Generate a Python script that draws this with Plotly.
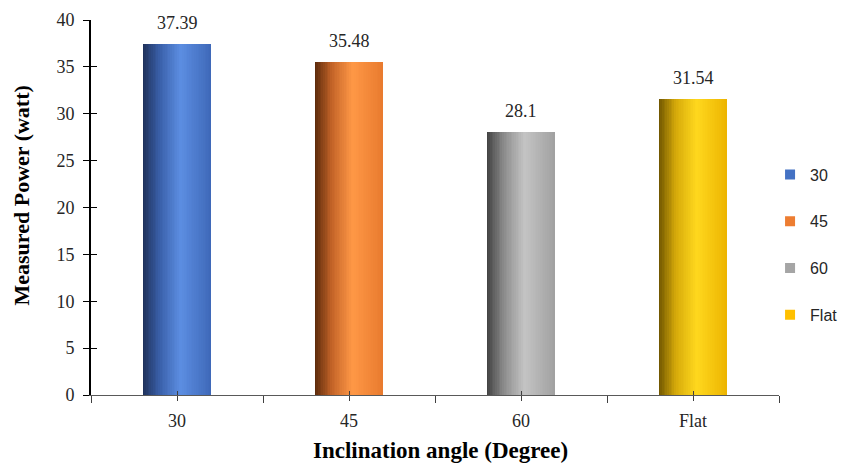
import plotly.graph_objects as go

# ---- data ----
categories = ["30", "45", "60", "Flat"]
values = [37.39, 35.48, 28.1, 31.54]
y_ticks = [0, 5, 10, 15, 20, 25, 30, 35, 40]
x_title = "Inclination angle (Degree)"
y_title = "Measured Power (watt)"

# ---- style ----
base_colors = ["#4472C4", "#ED7D31", "#A5A5A5", "#FFC000"]
# gradient stops per bar: (position, rgb)
gradients = [
    [(0.0, (30, 48, 88)), (0.25, (58, 96, 170)), (0.55, (92, 142, 226)), (1.0, (62, 104, 184))],
    [(0.0, (88, 40, 10)), (0.25, (196, 100, 40)), (0.55, (255, 152, 70)), (1.0, (232, 122, 46))],
    [(0.0, (64, 64, 64)), (0.25, (140, 140, 140)), (0.55, (196, 196, 196)), (1.0, (160, 160, 160))],
    [(0.0, (110, 84, 0)), (0.25, (214, 170, 10)), (0.55, (255, 216, 30)), (1.0, (236, 180, 0))],
]
BAR_W = 0.4
N_SLICES = 40
SERIF = "Liberation Serif, Times New Roman, serif"
SANS = "Liberation Sans, Arial, sans-serif"


def interp(stops, t):
    for (p0, c0), (p1, c1) in zip(stops[:-1], stops[1:]):
        if p0 <= t <= p1:
            f = (t - p0) / (p1 - p0) if p1 > p0 else 0
            c = [round(a + (b - a) * f) for a, b in zip(c0, c1)]
            return "rgb(%d,%d,%d)" % tuple(c)
    c = stops[-1][1]
    return "rgb(%d,%d,%d)" % tuple(c)


xpos = list(range(len(categories)))
fig = go.Figure()

sw = BAR_W / N_SLICES
for i in range(N_SLICES):
    t = (i + 0.5) / N_SLICES
    fig.add_trace(go.Bar(
        x=xpos, y=values,
        width=sw * 1.6 if i < N_SLICES - 1 else sw,
        offset=-BAR_W / 2 + i * sw,
        marker=dict(color=[interp(g, t) for g in gradients], line=dict(width=0)),
        showlegend=False, hoverinfo="skip",
    ))

# legend entries
for cat, col in zip(categories, base_colors):
    fig.add_trace(go.Scatter(
        x=[None], y=[None], mode="markers", name=cat,
        marker=dict(symbol="square", size=10, color=col),
        legendgroup=cat,
    ))

# invisible trace anchoring the overlay axes (used for crossing tick marks)
fig.add_trace(go.Scatter(
    x=xpos, y=values, mode="markers", marker=dict(opacity=0, size=1),
    xaxis="x2", yaxis="y2", showlegend=False, hoverinfo="skip",
))

# value labels
for xp, v in zip(xpos, values):
    fig.add_annotation(
        x=xp, y=v, xref="x", yref="y", text=f"{v:g}", showarrow=False,
        yanchor="bottom", yshift=9,
        font=dict(family=SERIF, size=18, color="#262626"),
    )

# axis titles
fig.add_annotation(
    x=-0.1003, y=0.532, xref="paper", yref="paper", text="<b>" + y_title + "</b>",
    textangle=-90, showarrow=False, xanchor="center", yanchor="middle",
    font=dict(family=SERIF, size=22, color="black"),
)
fig.add_annotation(
    x=0.5087, y=-0.149, xref="paper", yref="paper", text="<b>" + x_title + "</b>",
    showarrow=False, xanchor="center", yanchor="middle",
    font=dict(family=SERIF, size=23, color="black"),
)

fig.update_layout(
    width=842, height=466,
    margin=dict(l=91, r=63, t=20, b=71, autoexpand=False),
    paper_bgcolor="white", plot_bgcolor="white",
    barmode="overlay", bargap=0,
    xaxis=dict(
        range=[-0.5, len(categories) - 0.5], tickmode="array", tickvals=xpos, ticktext=categories,
        showgrid=False, zeroline=False, showline=True, linecolor="#595959", linewidth=1.2,
        ticks="outside", ticklen=5, tickcolor="#404040",
        minor=dict(tickmode="linear", tick0=0.5, dtick=1, ticks="outside", ticklen=7, tickcolor="#404040", showgrid=False),
        tickfont=dict(family=SERIF, size=18, color="#262626"), ticklabelstandoff=4,
        fixedrange=True,
    ),
    yaxis=dict(
        range=[0, 40], tickmode="array", tickvals=y_ticks,
        showgrid=False, zeroline=False, showline=True, linecolor="black", linewidth=1.6,
        ticks="outside", ticklen=6, tickcolor="black",
        tickfont=dict(family=SERIF, size=18, color="#262626"), ticklabelstandoff=5,
        fixedrange=True,
    ),
    xaxis2=dict(
        overlaying="x", anchor="y2", range=[-0.5, len(categories) - 0.5], tickmode="array", tickvals=xpos,
        showticklabels=False, ticks="inside", ticklen=4, tickcolor="#404040",
        showgrid=False, zeroline=False, showline=False, fixedrange=True,
    ),
    yaxis2=dict(
        overlaying="y", anchor="x2", range=[0, 40], tickmode="array", tickvals=y_ticks,
        showticklabels=False, ticks="inside", ticklen=6, tickcolor="black",
        showgrid=False, zeroline=False, showline=False, fixedrange=True,
    ),
    legend=dict(
        x=0.987, xanchor="left", y=0.4, yanchor="middle",
        font=dict(family=SANS, size=16, color="#262626"),
        tracegroupgap=23, bgcolor="rgba(0,0,0,0)",
    ),
    showlegend=True,
)

fig.write_html("out.html")
